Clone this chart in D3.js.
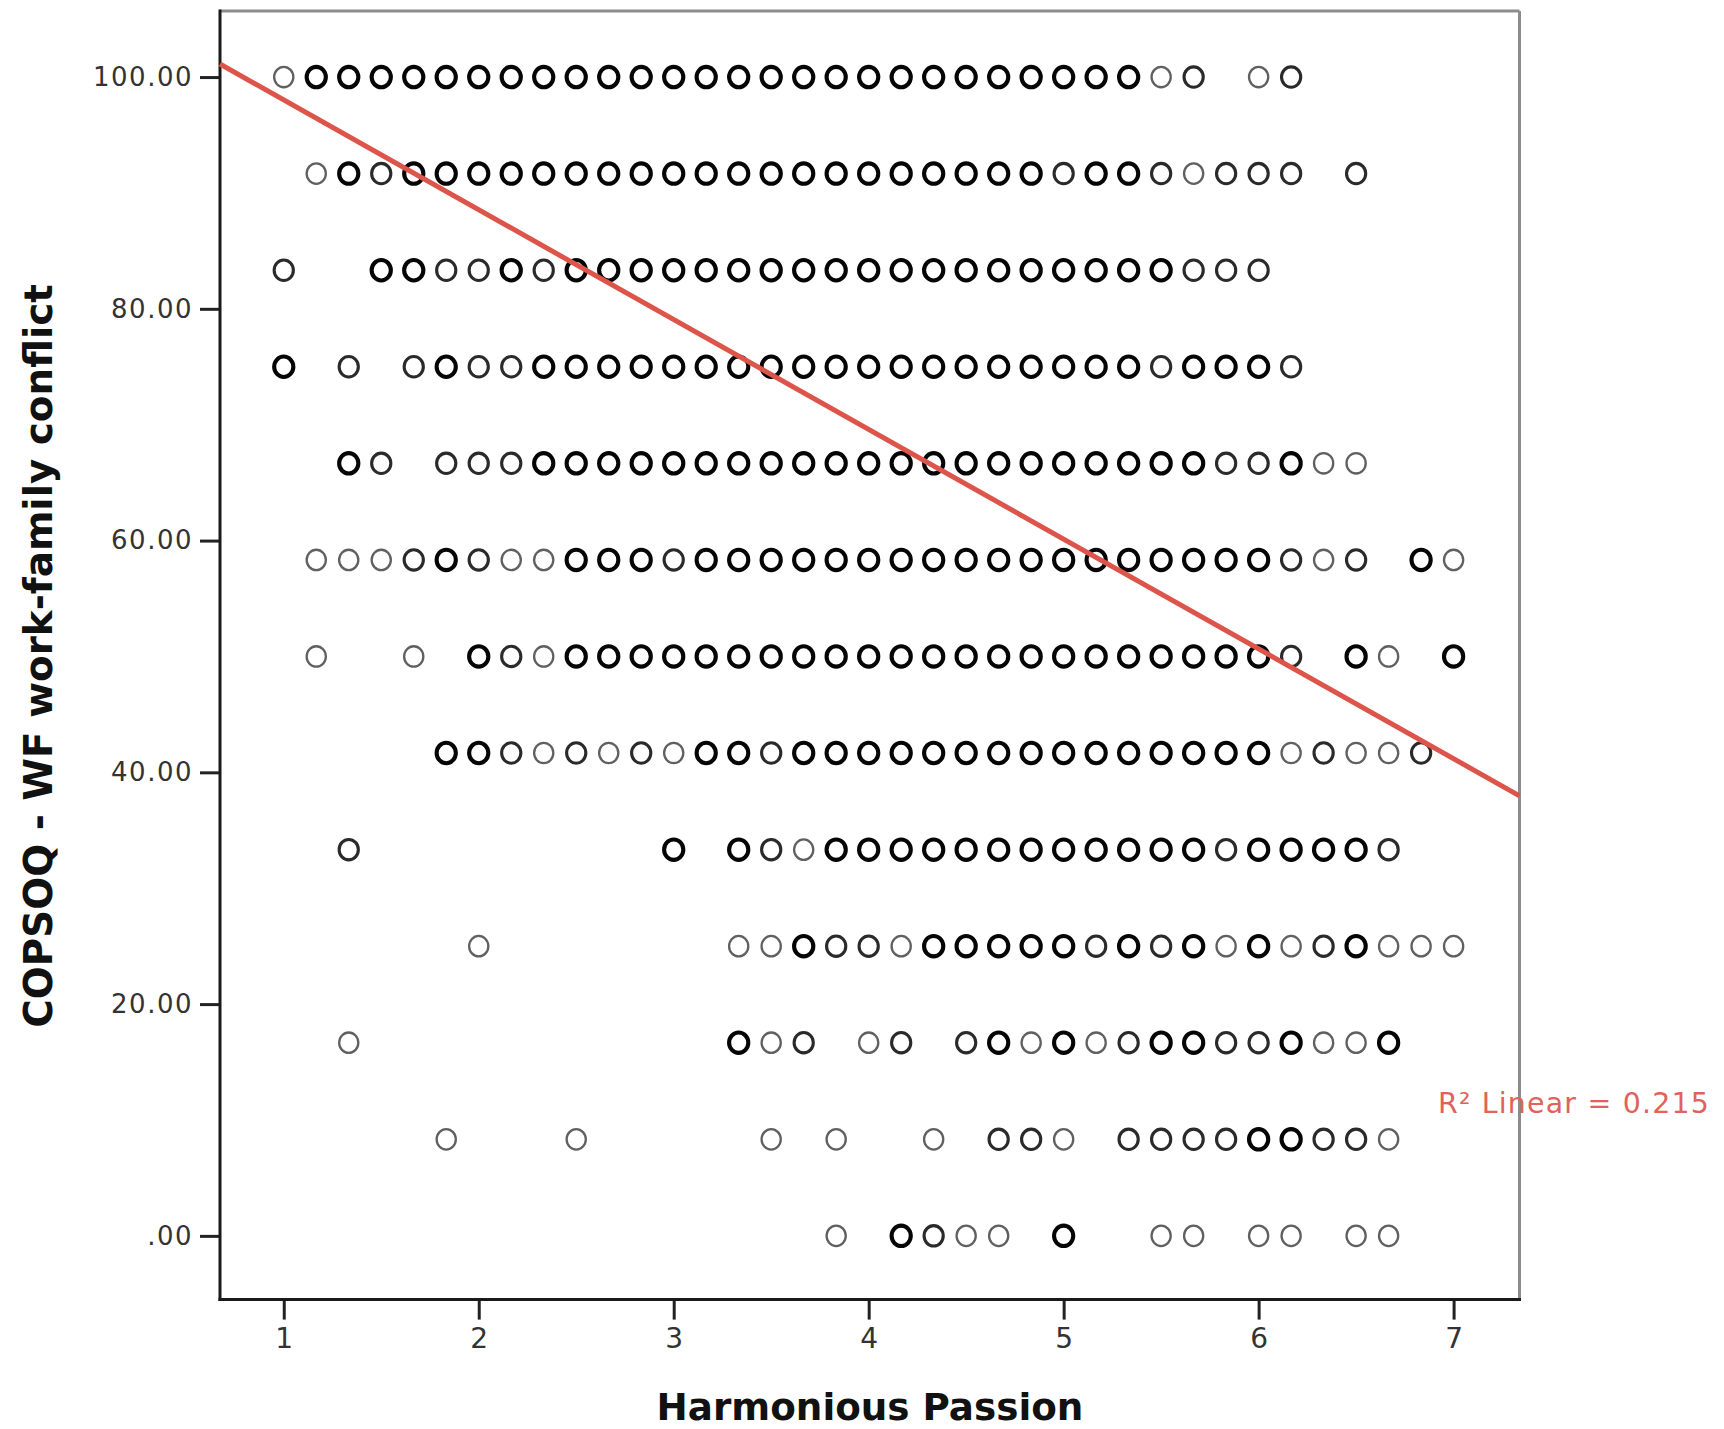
<!DOCTYPE html>
<html>
<head>
<meta charset="utf-8">
<script src="https://cdn.jsdelivr.net/npm/d3@7"></script>
<style>
  html, body { margin: 0; padding: 0; background: #fff; }
  svg { display: block; }
</style>
</head>
<body>
<svg id="chart" width="1724" height="1429"></svg>
<script>
// Harmonious Passion: mean of six 1–7 items, so scores fall on sixths
const passionValues = [1.0000, 1.1667, 1.3333, 1.5000, 1.6667, 1.8333, 2.0000, 2.1667, 2.3333, 2.5000,
                       2.6667, 2.8333, 3.0000, 3.1667, 3.3333, 3.5000, 3.6667, 3.8333, 4.0000, 4.1667,
                       4.3333, 4.5000, 4.6667, 4.8333, 5.0000, 5.1667, 5.3333, 5.5000, 5.6667, 5.8333,
                       6.0000, 6.1667, 6.3333, 6.5000, 6.6667, 6.8333, 7.0000];

// COPSOQ work-family conflict scale points
const conflictValues = [100, 91.67, 83.33, 75, 66.67, 58.33, 50, 41.67, 33.33, 25, 16.67, 8.33, 0];

// Overplotting per cell, one entry per passion score (0 = empty, 1 = single case, 2 = a few, 3 = many)
const row100 = [1,3,3,3,3,3,3,3,3,3, 3,3,3,3,3,3,3,3,3,3, 3,3,3,3,3,3,3,1,2,0, 1,2,0,0,0,0,0];
const row92  = [0,1,3,2,3,3,3,3,3,3, 3,3,3,3,3,3,3,3,3,3, 3,3,3,3,2,3,3,2,1,2, 2,2,0,2,0,0,0];
const row83  = [2,0,0,3,3,2,2,3,2,3, 3,3,3,3,3,3,3,3,3,3, 3,3,3,3,3,3,3,3,2,2, 2,0,0,0,0,0,0];
const row75  = [3,0,2,0,2,3,2,2,3,3, 3,3,3,3,3,3,3,3,3,3, 3,3,3,3,3,3,3,2,3,3, 3,2,0,0,0,0,0];
const row67  = [0,0,3,2,0,2,2,2,3,3, 3,3,3,3,3,3,3,3,3,3, 3,3,3,3,3,3,3,3,3,2, 2,3,1,1,0,0,0];
const row58  = [0,1,1,1,2,3,2,1,1,3, 3,3,2,3,3,3,3,3,3,3, 3,3,3,3,3,3,3,3,3,3, 3,2,1,2,0,3,1];
const row50  = [0,1,0,0,1,0,3,2,1,3, 3,3,3,3,3,3,3,3,3,3, 3,3,3,3,3,3,3,3,3,3, 3,2,0,3,1,0,3];
const row42  = [0,0,0,0,0,3,3,2,1,2, 1,2,1,3,3,2,3,3,3,3, 3,3,3,3,3,3,3,3,3,3, 3,1,2,1,1,2,0];
const row33  = [0,0,2,0,0,0,0,0,0,0, 0,0,3,0,3,2,1,3,3,3, 3,3,3,3,3,3,3,3,3,2, 3,3,3,3,2,0,0];
const row25  = [0,0,0,0,0,0,1,0,0,0, 0,0,0,0,1,1,3,2,2,1, 3,3,3,3,3,2,3,2,3,1, 3,1,2,3,1,1,1];
const row17  = [0,0,1,0,0,0,0,0,0,0, 0,0,0,0,3,1,2,0,1,2, 0,2,3,1,3,1,2,3,3,2, 2,3,1,1,3,0,0];
const row8   = [0,0,0,0,0,1,0,0,0,1, 0,0,0,0,0,1,0,1,0,0, 1,0,2,2,1,0,2,2,2,2, 3,3,2,2,1,0,0];
const row0   = [0,0,0,0,0,0,0,0,0,0, 0,0,0,0,0,0,0,1,0,3, 2,1,1,0,3,0,0,1,1,0, 1,1,0,1,1,0,0];
const rowCounts = [row100, row92, row83, row75, row67, row58, row50, row42, row33, row25, row17, row8, row0];

// Axis ticks
const xTicks = [1, 2, 3, 4, 5, 6, 7];
const yTicks = [0, 20, 40, 60, 80, 100];
const yTickLabels = [".00", "20.00", "40.00", "60.00", "80.00", "100.00"];

// Linear fit line
const fitIntercept = 107.5;
const fitSlope = -9.475;
const rSquared = 0.215;

const xTitle = "Harmonious Passion";
const yTitle = "COPSOQ - WF work-family conflict";

// ---- layout ----
const frame = { left: 220, right: 1519.5, top: 11, bottom: 1299.6 };
const svg = d3.select("#chart");

const x = d3.scaleLinear().domain([0.673, 7.338]).range([frame.left, frame.right]);
const y = d3.scaleLinear().domain([-5.5, 105.7]).range([frame.bottom, frame.top]);

const levelStroke = d3.scaleOrdinal().domain([1, 2, 3]).range(["#606060", "#2a2a2a", "#050505"]);
const levelWidth = d3.scaleOrdinal().domain([1, 2, 3]).range([2.3, 3.1, 4.1]);

// Frame: top and right edges in grey
svg.append("line")
  .attr("x1", frame.left).attr("x2", frame.right)
  .attr("y1", frame.top).attr("y2", frame.top)
  .attr("stroke", "#8c8c8c").attr("stroke-width", 3);
svg.append("line")
  .attr("x1", frame.right).attr("x2", frame.right)
  .attr("y1", frame.top).attr("y2", frame.bottom)
  .attr("stroke", "#8c8c8c").attr("stroke-width", 3);

// Scatter points (open rings, slightly taller than wide)
const points = rowCounts.flatMap((counts, ri) =>
  counts.map((n, ki) => ({ hp: passionValues[ki], wf: conflictValues[ri], n }))
        .filter(d => d.n > 0));

svg.append("g")
  .selectAll("ellipse")
  .data(points)
  .join("ellipse")
    .attr("cx", d => x(d.hp))
    .attr("cy", d => y(d.wf))
    .attr("rx", 9.6)
    .attr("ry", 10.2)
    .attr("fill", "none")
    .attr("stroke", d => levelStroke(d.n))
    .attr("stroke-width", d => levelWidth(d.n));

// Axes
const axisFont = "'DejaVu Sans', 'Liberation Sans', sans-serif";

const yAxis = svg.append("g")
  .attr("transform", `translate(${frame.left},0)`)
  .call(d3.axisLeft(y).tickValues(yTicks)
          .tickFormat((d, i) => yTickLabels[i])
          .tickSize(20).tickSizeOuter(0).tickPadding(7));
yAxis.select(".domain").remove();
yAxis.selectAll(".tick line").attr("stroke", "#222").attr("stroke-width", 3);
yAxis.selectAll(".tick text")
  .attr("font-family", axisFont).attr("font-size", 26)
  .attr("letter-spacing", "1.5px").attr("fill", "#333");

const xAxis = svg.append("g")
  .attr("transform", `translate(0,${frame.bottom})`)
  .call(d3.axisBottom(x).tickValues(xTicks)
          .tickFormat(d3.format("d"))
          .tickSize(20).tickSizeOuter(0).tickPadding(9));
xAxis.select(".domain").remove();
xAxis.selectAll(".tick line").attr("stroke", "#222").attr("stroke-width", 3);
xAxis.selectAll(".tick text")
  .attr("font-family", axisFont).attr("font-size", 28).attr("fill", "#333");

// Left and bottom axis lines
svg.append("line")
  .attr("x1", frame.left).attr("x2", frame.left)
  .attr("y1", frame.top - 1.5).attr("y2", frame.bottom + 1.5)
  .attr("stroke", "#1a1a1a").attr("stroke-width", 3);
svg.append("line")
  .attr("x1", frame.left - 1.5).attr("x2", frame.right + 1.5)
  .attr("y1", frame.bottom).attr("y2", frame.bottom)
  .attr("stroke", "#1a1a1a").attr("stroke-width", 3);

// Fit line across the plotted range
const [x0, x1] = x.domain();
svg.append("line")
  .attr("x1", x(x0)).attr("y1", y(fitIntercept + fitSlope * x0))
  .attr("x2", x(x1)).attr("y2", y(fitIntercept + fitSlope * x1))
  .attr("stroke", "#dd554a").attr("stroke-width", 5);

// Scale a label's font so it spans a given width
function fitToWidth(sel, width) {
  const w = sel.node().getComputedTextLength();
  const fs = parseFloat(sel.attr("font-size"));
  sel.attr("font-size", fs * width / w);
}

// R² annotation
const r2Label = svg.append("text")
  .attr("x", 1438).attr("y", 1103).attr("dy", "0.35em")
  .attr("font-family", axisFont).attr("font-size", 26)
  .attr("letter-spacing", "1.2px")
  .attr("fill", "#e0625a")
  .text(`R\u00B2 Linear = ${rSquared.toFixed(3)}`);
fitToWidth(r2Label, 274);

// Axis titles
const xTitleText = svg.append("text")
  .attr("x", 870).attr("y", 1407).attr("dy", "0.35em")
  .attr("text-anchor", "middle")
  .attr("font-family", axisFont).attr("font-weight", "bold")
  .attr("font-size", 36).attr("fill", "#111")
  .text(xTitle);
fitToWidth(xTitleText, 427);

const yTitleText = svg.append("text")
  .attr("transform", "translate(38,656) rotate(-90)")
  .attr("dy", "0.35em")
  .attr("text-anchor", "middle")
  .attr("font-family", axisFont).attr("font-weight", "bold")
  .attr("font-size", 36).attr("fill", "#111")
  .text(yTitle);
fitToWidth(yTitleText, 744);
</script>
</body>
</html>
